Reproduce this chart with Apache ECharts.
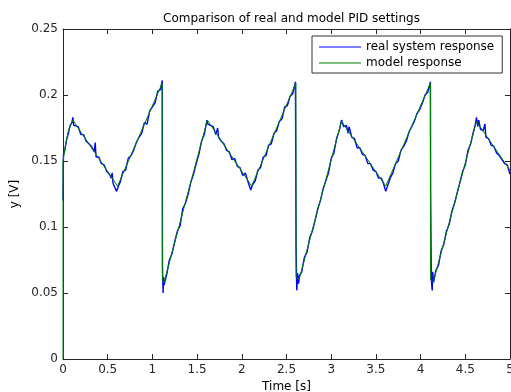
<!DOCTYPE html>
<html><head><meta charset="utf-8">
<script src="https://cdn.jsdelivr.net/npm/echarts@6/dist/echarts.min.js"></script>
<style>html,body{margin:0;padding:0;background:#fff}#c{width:511px;height:392px}</style>
</head><body><div id="c"></div>
<script>
const titleText = "Comparison of real and model PID settings";
const xName = "Time [s]";
const yName = "y [V]";
const seriesNames = ["real system response", "model response"];
const xTicks = { min: 0, max: 5, interval: 0.5 };
const yTicks = { min: 0, max: 0.25, interval: 0.05 };

// model response (green) [t, y]
const modelData = [
  [0,0],[0,0.15],[0.03,0.163],[0.06,0.173],[0.11,0.181],[0.61,0.131],[1.11,0.209],
  [1.112,0.06],[1.13,0.058],[1.615,0.181],[2.11,0.131],[2.605,0.209],
  [2.607,0.062],[2.64,0.06],[3.115,0.18],[3.61,0.131],[4.11,0.209],
  [4.112,0.06],[4.14,0.058],[4.625,0.18],[5.0,0.143]
];

// real system response (blue, noisy) [t, y]
const realData = [
  [0,0.12],[0.005,0.155],[0.02,0.158],[0.04,0.166],[0.06,0.171],[0.08,0.177],[0.1,0.179],[0.11,0.183],[0.12,0.177],
  [0.14,0.176],[0.17,0.176],[0.20,0.170],[0.23,0.170],[0.26,0.165],[0.29,0.163],[0.32,0.161],[0.35,0.157],[0.36,0.164],[0.37,0.153],
  [0.40,0.153],[0.43,0.148],[0.46,0.147],[0.49,0.142],[0.52,0.140],[0.54,0.137],[0.55,0.141],[0.56,0.133],[0.58,0.134],[0.60,0.127],[0.62,0.131],
  [0.64,0.134],[0.67,0.142],[0.70,0.143],[0.73,0.152],[0.76,0.154],[0.79,0.158],[0.82,0.164],[0.85,0.168],[0.88,0.171],[0.91,0.179],
  [0.94,0.178],[0.97,0.188],[1.00,0.191],[1.03,0.194],[1.06,0.203],[1.09,0.204],[1.11,0.211],
  [1.112,0.093],[1.113,0.068],[1.12,0.05],[1.125,0.062],[1.13,0.056],
  [1.16,0.064],[1.19,0.075],[1.22,0.080],[1.25,0.089],[1.28,0.097],[1.31,0.101],[1.34,0.114],[1.37,0.118],[1.40,0.125],
  [1.43,0.134],[1.46,0.140],[1.49,0.148],[1.52,0.155],[1.55,0.165],[1.58,0.170],[1.61,0.181],[1.62,0.178],
  [1.65,0.177],[1.68,0.176],[1.71,0.170],[1.73,0.175],[1.74,0.168],[1.77,0.165],[1.80,0.163],[1.83,0.158],[1.86,0.157],
  [1.89,0.151],[1.92,0.152],[1.95,0.146],[1.98,0.145],[2.01,0.139],[2.04,0.141],[2.07,0.134],[2.10,0.128],[2.12,0.132],
  [2.15,0.135],[2.18,0.143],[2.21,0.145],[2.24,0.153],[2.27,0.154],[2.30,0.162],[2.33,0.163],[2.36,0.171],[2.39,0.173],
  [2.42,0.180],[2.45,0.182],[2.48,0.191],[2.51,0.192],[2.54,0.199],[2.57,0.201],[2.60,0.210],
  [2.606,0.106],[2.607,0.085],[2.615,0.052],[2.625,0.065],[2.635,0.057],[2.645,0.063],
  [2.67,0.066],[2.70,0.077],[2.73,0.081],[2.76,0.092],[2.79,0.097],[2.82,0.105],[2.85,0.114],[2.88,0.120],[2.91,0.129],
  [2.94,0.135],[2.97,0.141],[3.00,0.152],[3.03,0.156],[3.06,0.167],[3.09,0.173],[3.115,0.181],
  [3.14,0.176],[3.17,0.177],[3.19,0.171],[3.20,0.176],[3.23,0.168],[3.26,0.167],[3.29,0.160],[3.32,0.160],[3.35,0.155],
  [3.38,0.154],[3.41,0.148],[3.44,0.148],[3.47,0.143],[3.50,0.142],[3.53,0.137],[3.56,0.137],[3.58,0.134],[3.61,0.127],[3.63,0.131],
  [3.66,0.137],[3.69,0.141],[3.72,0.148],[3.75,0.150],[3.78,0.158],[3.81,0.161],[3.84,0.165],[3.87,0.172],[3.90,0.176],
  [3.93,0.180],[3.96,0.186],[3.99,0.189],[4.02,0.194],[4.05,0.200],[4.08,0.202],[4.11,0.210],
  [4.112,0.131],[4.113,0.119],[4.12,0.06],[4.13,0.052],[4.135,0.066],[4.145,0.058],
  [4.17,0.067],[4.20,0.071],[4.23,0.082],[4.26,0.087],[4.29,0.097],[4.32,0.102],[4.35,0.112],[4.38,0.118],[4.41,0.126],
  [4.44,0.134],[4.47,0.142],[4.50,0.147],[4.53,0.158],[4.56,0.163],[4.59,0.172],[4.61,0.177],[4.625,0.183],
  [4.64,0.176],[4.65,0.181],[4.67,0.174],[4.70,0.173],[4.72,0.178],[4.73,0.168],[4.76,0.167],[4.79,0.162],[4.82,0.161],
  [4.85,0.156],[4.88,0.154],[4.91,0.151],[4.94,0.148],[4.97,0.147],[5.0,0.140]
];

const FONT = "DejaVu Sans";
const axisColor = "#262626";
const fmt = v => String(+(+v).toFixed(2));
const lineIcon = 'path://M0,0L42,0L42,1L0,1Z';

const chart = echarts.init(document.getElementById('c'), null, {renderer: 'canvas'});
const baseX = {
  type: 'value', min: xTicks.min, max: xTicks.max, interval: xTicks.interval,
  axisLine: {show: true, onZero: false, lineStyle: {color: axisColor, width: 1}},
  axisTick: {show: true, inside: true, length: 5, lineStyle: {color: axisColor}},
  splitLine: {show: false}
};
const baseY = {
  type: 'value', min: yTicks.min, max: yTicks.max, interval: yTicks.interval,
  axisLine: {show: true, onZero: false, lineStyle: {color: axisColor, width: 1}},
  axisTick: {show: true, inside: true, length: 5, lineStyle: {color: axisColor}},
  splitLine: {show: false}
};
chart.setOption({
  animation: false,
  backgroundColor: '#fff',
  textStyle: {fontFamily: FONT},
  title: {
    text: titleText, left: 286.5, top: 8, textAlign: 'center',
    textStyle: {fontFamily: FONT, fontSize: 12, fontWeight: 'normal', color: '#000'}
  },
  grid: {left: 63, right: 1, top: 29, bottom: 33, containLabel: false, outerBoundsMode: 'none'},
  legend: {
    orient: 'vertical', left: 312, top: 36,
    padding: [5, 8, 4, 7], itemGap: 4, itemWidth: 42, itemHeight: 14,
    backgroundColor: '#fff', borderColor: '#333', borderWidth: 1,
    textStyle: {fontFamily: FONT, fontSize: 12, color: '#000'},
    data: [
      {name: seriesNames[0], icon: lineIcon},
      {name: seriesNames[1], icon: lineIcon}
    ]
  },
  xAxis: [
    Object.assign({}, baseX, {
      position: 'bottom', name: xName, nameLocation: 'middle', nameGap: 21,
      nameTextStyle: {fontFamily: FONT, fontSize: 12, color: '#000'},
      axisLabel: {show: true, margin: 5, fontFamily: FONT, fontSize: 12, color: '#262626', formatter: fmt, showMaxLabel: true, showMinLabel: true}
    }),
    Object.assign({}, baseX, {position: 'top', axisLabel: {show: false}})
  ],
  yAxis: [
    Object.assign({}, baseY, {
      position: 'left', name: yName, nameLocation: 'middle', nameGap: 36,
      nameTextStyle: {fontFamily: FONT, fontSize: 12, color: '#000'},
      axisLabel: {show: true, margin: 5, fontFamily: FONT, fontSize: 12, color: '#262626', formatter: fmt}
    }),
    Object.assign({}, baseY, {position: 'right', axisLabel: {show: false}})
  ],
  series: [
    {
      name: seriesNames[0], type: 'line', data: realData, xAxisIndex: 0, yAxisIndex: 0,
      symbol: 'none', lineStyle: {color: '#0000ff', width: 1.4}, itemStyle: {color: '#0000ff'}, z: 2
    },
    {
      name: seriesNames[1], type: 'line', data: modelData, xAxisIndex: 0, yAxisIndex: 0,
      symbol: 'none', lineStyle: {color: '#008000', width: 1}, itemStyle: {color: '#008000'}, z: 3
    }
  ]
});
</script></body></html>
